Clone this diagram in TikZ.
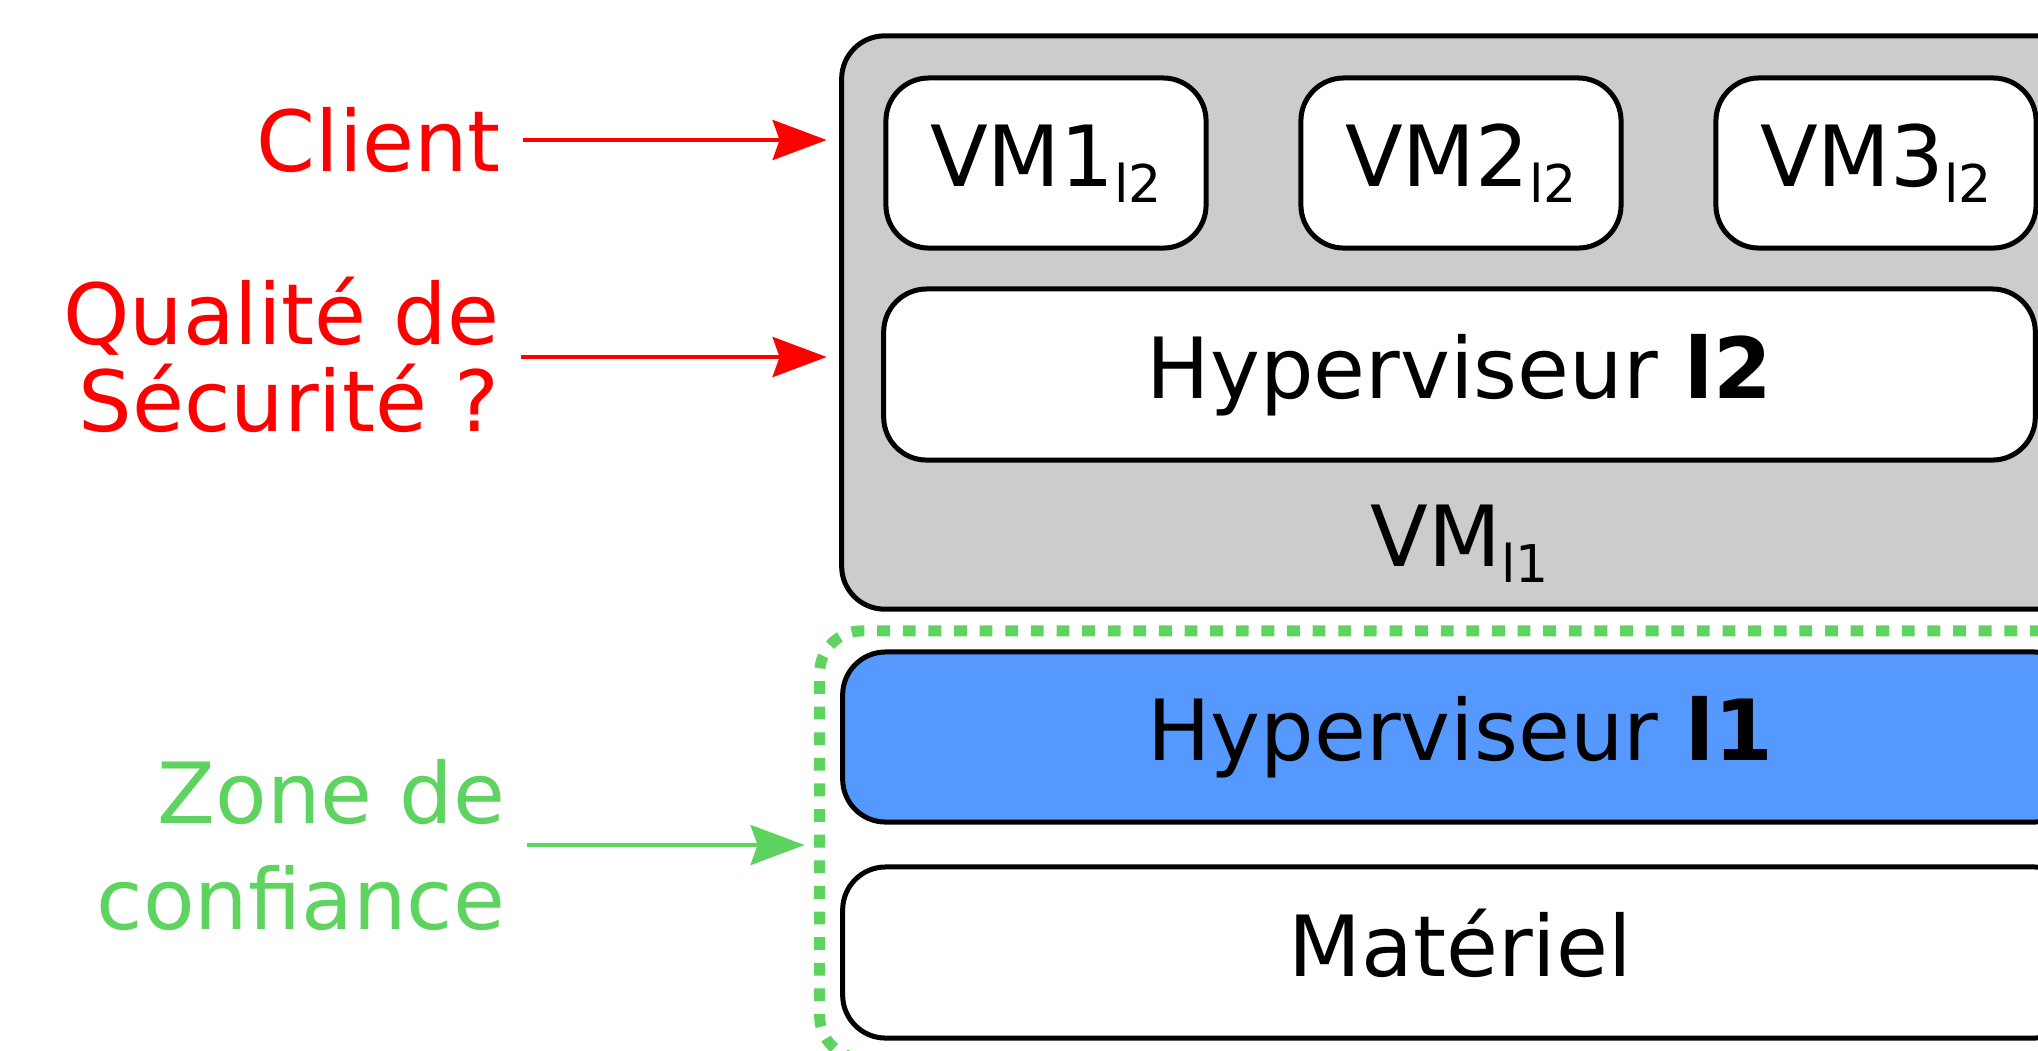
\documentclass[tikz,border=0pt]{standalone}
\usepackage{fontspec}
\setmainfont{DejaVu Sans}
\usetikzlibrary{arrows.meta,positioning,calc}
\definecolor{vmgray}{HTML}{CCCCCC}
\definecolor{hypblue}{HTML}{5599FF}
\definecolor{trustgreen}{HTML}{5FD35F}
\newcommand\lvl[1]{\raisebox{-0.16cm}{\fontsize{14.8}{16}\selectfont #1}}
\tikzset{
  layers/.style = {
    x = 0.01cm, y = -0.01cm,
    font = \fontsize{24}{24.75}\selectfont,
    % Boites
    layer/.style = {draw, line width=0.05cm, rounded corners=0.43cm,
      fill=white, inner sep=0pt, outer sep=0pt,
      text height=0.62cm, text depth=0.15cm},
    trust frame/.style = {draw=trustgreen, line width=0.11cm,
      dash pattern=on 0.128cm off 0.128cm, rounded corners=0.42cm,
      inner sep=0pt, outer sep=0pt},
    note/.style = {inner sep=0pt, outer sep=0pt, align=right,
      anchor=east, text depth=0cm},
    % Fleches
    red arrow/.style   = {red, line width=0.04cm,
      -{Stealth[length=0.54cm,width=0.4cm,inset=0.07cm]},
      shorten <=0.22cm, shorten >=0.15cm},
    green arrow/.style = {red arrow, trustgreen},
  }
}
\begin{document}
\begin{tikzpicture}[layers]
\path[use as bounding box, clip] (0,0) rectangle (2038,1050);
\def\layer#1(#2)#3<#4,#5>[#6] at (#7);{
	\node[layer,#1,minimum width=#4,minimum height=#5] (#2) at (#7) {#6};
}
%---------------------------------------------
\layer{fill=vmgray}(vml1) <12.36cm,5.73cm>[] at (1460,322.5);
\node[layer, draw=none, fill=none] (vml1-lbl) at (1460,542.5) {VM\lvl{l1}};

\layer (vm1) <3.2cm,1.7cm>[VM1\lvl{l2}] at (1046,163);
\layer (vm2) <3.2cm,1.7cm>[VM2\lvl{l2}] at (1461,163);
\layer (vm3) <3.2cm,1.7cm>[VM3\lvl{l2}] at (1876,163);
\layer (hyp2) <11.51cm,1.71cm>[Hyperviseur \textbf{l2}] at (1459.5,374.5);

\node[trust frame, minimum width=12.9cm, minimum height=4.27cm] (trust) at (1465,844.5) {};
\layer{fill=hypblue}(hyp1) <12.34cm,1.7cm>[Hyperviseur \textbf{l1}] at (1460,737);
\layer (mat) <12.34cm,1.71cm>[Matériel] at (1460,952.5);

%---------------------------------------------
\node[note, red, text height=1.49cm] (quality) at (499,357) {Qualité de\\Sécurité ?};
\node[note, red, text height=0.62cm] (client) at (501,140) {Client};
\node[note, trustgreen, text height=1.68cm] (zone) at (505,845) {Zone de\\[0.19cm]confiance};

\draw[red arrow] (client.east) -- (client.east -| vml1.west);
\draw[red arrow] (quality.east) -- (quality.east -| vml1.west);
\draw[green arrow] (zone.east) -- (zone.east -| trust.west);

\end{tikzpicture}
\end{document}
